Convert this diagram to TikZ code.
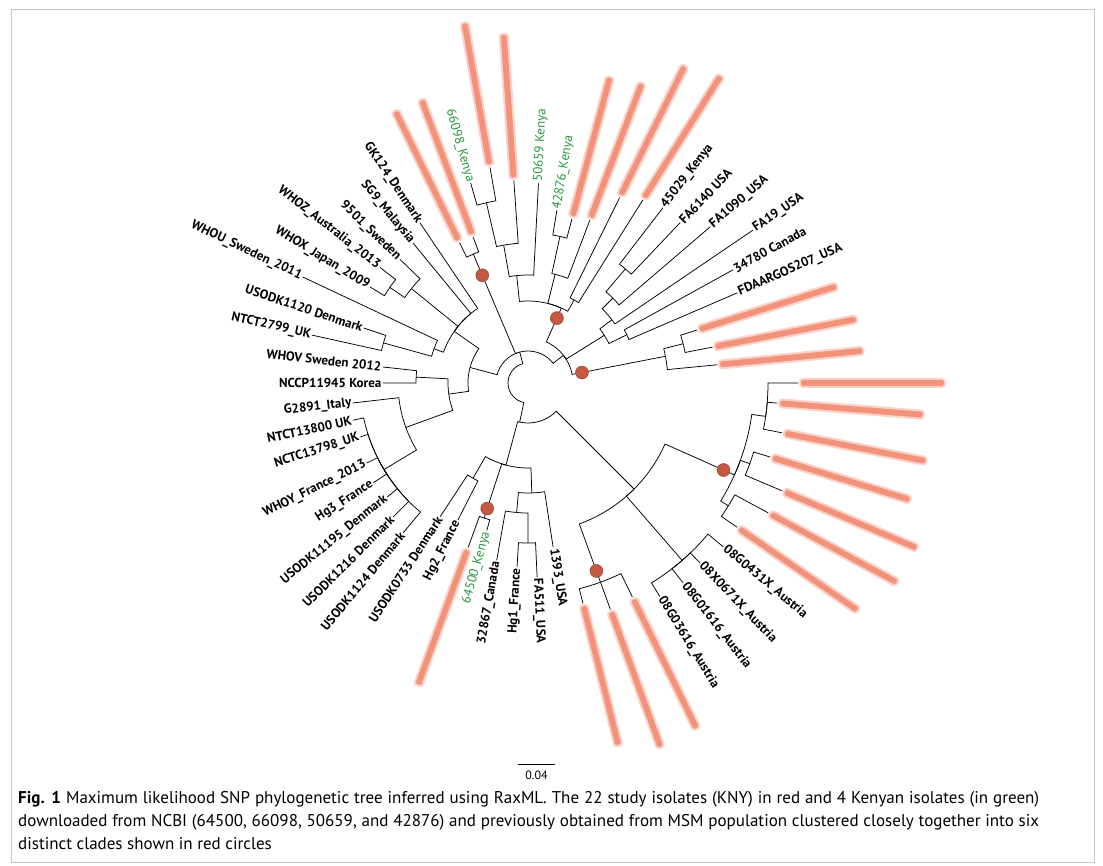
\documentclass[tikz,border=0pt]{standalone}
\usepackage{fontspec}
\setmainfont{PT Sans}
\newfontfamily\lblfont{PT Sans}
\usetikzlibrary{positioning}

\definecolor{knyred}{RGB}{238,104,72}
\definecolor{kgreen}{RGB}{38,150,60}
\definecolor{dotred}{RGB}{196,88,64}

% tree helpers: internal node, leaf label, branch (arc + radial line)
\newcommand\tnode[3]{\coordinate (#1) at (#2:#3);
  \expandafter\xdef\csname tA#1\endcsname{#2}%
  \expandafter\xdef\csname tR#1\endcsname{#3}}
\newcommand\tleaf[5][lbl]{%
  \pgfmathsetmacro\lcos{cos(#3)}%
  \pgfmathsetmacro\lrot{#3-180}%
  \ifdim\lcos pt>0pt
    \node[#1,anchor=west,rotate=#3] (#2) at (#3:#4) {#5};
  \else
    \node[#1,anchor=east,rotate=\lrot] (#2) at (#3:#4) {#5};
  \fi
  \expandafter\xdef\csname tA#2\endcsname{#3}%
  \expandafter\xdef\csname tR#2\endcsname{#4}}
\newcommand\tedge[2]{%
  \edef\tpa{\csname tA#1\endcsname}\edef\tpr{\csname tR#1\endcsname}%
  \edef\tca{\csname tA#2\endcsname}%
  \draw[branch] (#1) arc[start angle=\tpa,end angle=\tca,radius=\tpr] -- (#2);}

\begin{document}
\begin{tikzpicture}[
  x=1pt,y=1pt,
  branch/.style={line width=0.75pt},
  lbl/.style={font=\lblfont\bfseries\fontsize{13}{15}\selectfont,inner sep=1.5pt},
  kenya/.style={lbl,font=\lblfont\fontsize{13}{15}\selectfont,text=kgreen},
  kny/.style={fill=knyred!72,draw=knyred!30,line width=2pt,rounded corners=3pt,
    minimum width=145pt,minimum height=8pt,inner sep=0pt,outer sep=2pt},
  dot/.style={circle,fill=dotred,draw=dotred!70!black,minimum size=13pt,inner sep=0pt},
  caption/.style={text width=1021pt,align=justify,inner sep=0pt,
    font=\fontsize{17}{23}\selectfont}
]
\useasboundingbox (-528,-483) rectangle (575,383);
\draw[gray!45,line width=1pt] (-516,373) rectangle (566,-479);

% root and main groups
\tnode{root}{180}{20}
\tnode{U}{105}{32}
\tnode{D}{258}{40}
\tnode{Rt}{38}{45}
\tnode{cladeA}{113}{140}
\tnode{Lf}{165}{60}

% right / top
\tnode{cladeC}{11}{140}
\tnode{cladeCb}{14.2}{160}
\tleaf[kny]{k05}{5.5}{190}{}
\tleaf[kny]{k11}{11}{188}{}
\tleaf[kny]{k17}{17.4}{177}{}
\tnode{usa}{32}{90}
\tnode{usd}{26}{110}
\tnode{usc}{37}{105}
\tnode{usb}{45}{120}
\tnode{usa1}{49.5}{150}
\tleaf{fdaa}{23.3}{228}{FDAARGOS207\_USA}
\tleaf{can}{28.9}{234}{34780 Canada}
\tleaf{fa19}{34.2}{272}{FA19\_USA}
\tleaf{fa1090}{40.6}{240}{FA1090\_USA}
\tleaf{fa6140}{46.5}{221}{FA6140 USA}
\tleaf{ken45}{52.4}{221}{45029\_Kenya}
\tnode{top}{66}{82}
\tnode{topA}{61}{95}
\tnode{topB}{76}{112}
\tnode{topBa}{77.7}{150}
\tnode{topC}{96}{108}
\tnode{topCa}{100}{140}
\tnode{topCb}{103}{185}
\tleaf[kny]{k58}{57.9}{216}{}
\tleaf[kny]{k64}{63.7}{207}{}
\tleaf[kny]{k69}{69.2}{174}{}
\tleaf[kny]{k75}{75}{170}{}
\tleaf[kenya]{g42876}{80.5}{175}{42876\_Kenya}
\tleaf[kenya]{g50659}{87}{200}{50659 Kenya}
\tleaf[kny]{k94}{94}{203}{}
\tleaf[kny]{k100}{100}{219}{}
\tleaf[kenya]{g66098}{106}{208}{66098\_Kenya}
\tleaf[kny]{k110}{110.6}{156}{}
\tleaf[kny]{k116}{116}{156}{}

% left
\tnode{lu}{145}{90}
\tnode{nnine}{141}{150}
\tnode{nzx}{145.3}{168}
\tnode{nwu}{160}{100}
\tnode{nun}{164.5}{150}
\tleaf{gk124}{124}{193}{GK124\_Denmark}
\tleaf{sg9}{129.4}{181}{SG9\_Malaysia}
\tleaf{s9501}{136}{178}{9501\_Sweden}
\tleaf{whoz}{142}{188}{WHOZ\_Australia\_2013}
\tleaf{whox}{148.7}{185}{WHOX\_Japan\_2009}
\tleaf{whou}{154.8}{249}{WHOU\_Sweden\_2011}
\tleaf{usodkA}{161.5}{173}{USODK1120 Denmark}
\tleaf{ntct}{167.5}{221}{NTCT2799\_UK}
\tnode{ll}{188}{80}
\tnode{nvk}{177}{112}
\tnode{ng}{200}{130}
\tnode{nb}{211}{168}
\tleaf{whov}{173.7}{146}{WHOV Sweden 2012}
\tleaf{nccp}{180}{145}{NCCP11945 Korea}
\tleaf{gitaly}{186.5}{176}{G2891\_Italy}
\tleaf{nctcA}{192}{179}{NTCT13800 UK}
\tleaf{nctcB}{197.8}{176}{NCTC13798\_UK}
\tleaf{whoy}{206.4}{180}{WHOY\_France\_2013}
\tleaf{hgthree}{212.8}{184}{Hg3\_France}
\tleaf{usodkB}{219}{181}{USODK11195\_Denmark}
\tleaf{usodkC}{224.8}{190}{USODK1216 Denmark}
\tleaf{usodkD}{230.2}{195}{USODK1124 Denmark}

% bottom
\tnode{lowL}{255}{85}
\tnode{nud}{240}{110}
\tnode{cladeE}{252}{142}
\tnode{nthirteen}{272}{110}
\tnode{nc}{265}{130}
\tnode{nhf}{270}{160}
\tleaf{usodkE}{236.7}{160}{USODK0733 Denmark}
\tleaf{hgtwo}{242.9}{154}{Hg2\_France}
\tleaf[kny]{k250}{250}{175}{}
\tleaf[kenya]{g64500}{254.4}{153}{64500\_Kenya}
\tleaf{can2}{260}{180}{32867\_Canada}
\tleaf{hgone}{266.6}{184}{Hg1\_France}
\tleaf{fa511}{272.7}{194}{FA511\_USA}
\tleaf{us1393}{278.7}{166}{1393\_USA}

% lower right
\tnode{lowR}{315}{150}
\tnode{cladeF}{290}{212}
\tnode{aut}{311}{235}
\tnode{cladeG}{336}{226}
\tnode{gA}{328.5}{235}
\tnode{gB}{340}{236}
\tnode{gC}{352}{240}
\tleaf[kny]{k284}{284}{227}{}
\tleaf[kny]{k290}{290}{241}{}
\tleaf[kny]{k296}{296}{238}{}
\tleaf{austA}{301.7}{251}{08G03616\_Austria}
\tleaf{austB}{307.8}{253}{08G01616\_Austria}
\tleaf{austC}{313.7}{249}{08X0671X\_Austria}
\tleaf{austD}{320}{255}{08G0431X\_Austria}
\tleaf[kny]{k325}{325.4}{254}{}
\tleaf[kny]{k332}{331.6}{273}{}
\tleaf[kny]{k337}{337}{276}{}
\tleaf[kny]{k343}{343}{253}{}
\tleaf[kny]{k349}{348.9}{259}{}
\tleaf[kny]{k355}{355.4}{250}{}
\tleaf[kny]{k360}{360}{270}{}

% branches
\tedge{root}{U} \tedge{root}{D}
\tedge{U}{Rt} \tedge{U}{cladeA} \tedge{U}{Lf}
\tedge{Rt}{cladeC} \tedge{Rt}{usa} \tedge{Rt}{top}
\tedge{cladeC}{k05} \tedge{cladeC}{cladeCb}
\tedge{cladeCb}{k11} \tedge{cladeCb}{k17}
\tedge{usa}{usd} \tedge{usa}{usc}
\tedge{usd}{fdaa} \tedge{usd}{can}
\tedge{usc}{fa19} \tedge{usc}{usb}
\tedge{usb}{fa1090} \tedge{usb}{usa1}
\tedge{usa1}{fa6140} \tedge{usa1}{ken45}
\tedge{top}{topA} \tedge{top}{topB} \tedge{top}{topC}
\tedge{topA}{k58} \tedge{topA}{k64}
\tedge{topB}{k69} \tedge{topB}{topBa}
\tedge{topBa}{k75} \tedge{topBa}{g42876}
\tedge{topC}{g50659} \tedge{topC}{topCa}
\tedge{topCa}{k94} \tedge{topCa}{topCb}
\tedge{topCb}{k100} \tedge{topCb}{g66098}
\tedge{cladeA}{k110} \tedge{cladeA}{k116}
\tedge{Lf}{lu} \tedge{Lf}{ll}
\tedge{lu}{gk124} \tedge{lu}{sg9} \tedge{lu}{nnine} \tedge{lu}{nwu}
\tedge{nnine}{s9501} \tedge{nnine}{nzx}
\tedge{nzx}{whoz} \tedge{nzx}{whox}
\tedge{nwu}{whou} \tedge{nwu}{nun}
\tedge{nun}{usodkA} \tedge{nun}{ntct}
\tedge{ll}{nvk} \tedge{ll}{ng}
\tedge{nvk}{whov} \tedge{nvk}{nccp}
\tedge{ng}{gitaly} \tedge{ng}{nb}
\foreach \lf in {nctcA,nctcB,whoy,hgthree,usodkB,usodkC,usodkD} {\tedge{nb}{\lf}}
\tedge{D}{lowL} \tedge{D}{lowR}
\tedge{lowL}{nud} \tedge{lowL}{cladeE} \tedge{lowL}{nthirteen}
\tedge{nud}{usodkE} \tedge{nud}{hgtwo}
\tedge{cladeE}{k250} \tedge{cladeE}{g64500}
\tedge{nthirteen}{nc} \tedge{nthirteen}{us1393}
\tedge{nc}{can2} \tedge{nc}{nhf}
\tedge{nhf}{hgone} \tedge{nhf}{fa511}
\tedge{lowR}{cladeF} \tedge{lowR}{aut} \tedge{lowR}{cladeG}
\foreach \lf in {k284,k290,k296} {\tedge{cladeF}{\lf}}
\foreach \lf in {austA,austB,austC,austD} {\tedge{aut}{\lf}}
\tedge{cladeG}{gA} \tedge{cladeG}{gB} \tedge{cladeG}{gC}
\tedge{gA}{k325} \tedge{gA}{k332}
\tedge{gB}{k337} \tedge{gB}{k343}
\foreach \lf in {k349,k355,k360} {\tedge{gC}{\lf}}

% clade markers
\node[dot] (dotA) at (113:117) {};
\node[dot] (dotB) at (66:71) {};
\node[dot] (dotC) at (11:55) {};
\node[dot] (dotD) at (336:214) {};
\node[dot] (dotE) at (252:132) {};
\node[dot] (dotF) at (290:200) {};

% scale bar
\coordinate (sbL) at (-10,-382);
\coordinate (sbR) at (27,-382);
\draw[line width=1pt] (sbL) -- (sbR) node[midway,below=2pt,font=\fontsize{12}{14}\selectfont] (sbtext) {0.04};

% caption
\node[caption,anchor=north west] (cap) at (-510,-408) {\textbf{Fig. 1} Maximum likelihood SNP phylogenetic tree inferred using RaxML. The 22 study isolates (KNY) in red and 4 Kenyan isolates (in green)\linebreak downloaded from NCBI (64500, 66098, 50659, and 42876) and previously obtained from MSM population clustered closely together into six\linebreak distinct clades shown in red circles};
\end{tikzpicture}
\end{document}
